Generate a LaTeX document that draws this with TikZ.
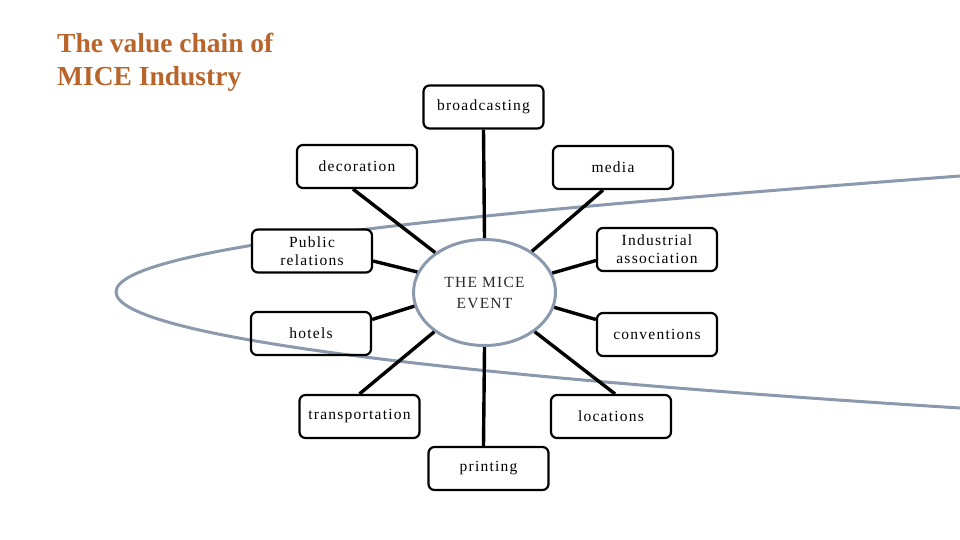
\documentclass[tikz,border=0pt]{standalone}
\usepackage{fontspec}
\setmainfont{Liberation Serif}
\newfontfamily\boxfont[LetterSpace=8]{Liberation Serif}
\usetikzlibrary{shapes.geometric}
\definecolor{titlec}{HTML}{B8642A}
\definecolor{curvec}{HTML}{8A99AD}
\definecolor{evtext}{HTML}{2A2A2A}
\begin{document}
\begin{tikzpicture}[x=1pt,y=-1pt,
  box/.style={draw=black, line width=2.2pt, rounded corners=6pt, fill=white,
    minimum width=120pt, minimum height=43pt, inner sep=0pt, align=center,
    font=\boxfont\fontsize{15.5}{18}\selectfont},
  openbox/.style={box, fill=none},
  event/.style={ellipse, draw=curvec, line width=3pt, fill=white,
    minimum width=142pt, minimum height=106pt, inner sep=0pt, align=center,
    text=evtext, font=\boxfont\fontsize{15.5}{21}\selectfont},
  conn/.style={draw=black, line width=3.4pt},
  curveline/.style={draw=curvec, line width=3pt},
  titletext/.style={anchor=base west, inner sep=0pt, text=titlec,
    font=\fontsize{27.5}{33}\selectfont\bfseries}]
\useasboundingbox (0,0) rectangle (960,540);

\node[titletext] (t1) at (57,53) {The value chain of};
\node[titletext] (t2) at (57,86) {MICE Industry};

\draw[curveline] (960,176) .. controls (460,213.5) and (116,247) .. (116,292)
  .. controls (116,337) and (460,376.75) .. (960,408);

\node[event] (ev) at (484.5,292.5) {THE MICE\\EVENT};

\node[box] (bc) at (483.5,107) {broadcasting};
\node[box] (deco) at (357,166.5) {decoration};
\node[box] (media) at (613,167.5) {media};
\node[box] (pr) at (312,251) {Public\\relations};
\node[box] (ind) at (657,249.5) {Industrial\\association};
\node[openbox] (hot) at (311,333.5) {hotels};
\node[box] (conv) at (657,334.5) {conventions};
\node[box] (trans) at (359.5,416.5) {transportation};
\node[box] (loc) at (611,416.5) {locations};
\node[box] (prt) at (488.5,468.5) {printing};

\draw[conn] (bc.south) -- (ev.90);
\draw[conn] ([xshift=-4pt]deco.south) -- (ev.141.8);
\draw[conn] ([xshift=-10pt]media.south) -- (ev.41.8);
\draw[conn] ([yshift=-10pt]pr.east) -- (ev.163.6);
\draw[conn] ([yshift=-11pt]ind.west) -- (ev.16.7);
\draw[conn] ([yshift=14pt]hot.east) -- (ev.191.5);
\draw[conn] ([yshift=15pt]conv.west) -- (ev.-12.7);
\draw[conn] (trans.north) -- (ev.218.2);
\draw[conn] ([xshift=4pt]loc.north) -- (ev.-38.7);
\draw[conn] ([xshift=-5pt]prt.north) -- (ev.270);
\end{tikzpicture}
\end{document}
